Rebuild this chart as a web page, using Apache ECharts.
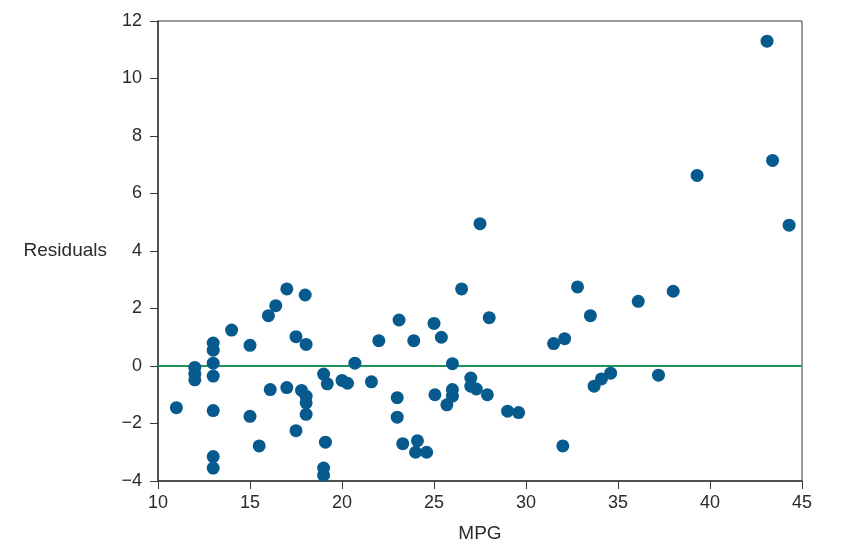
<!DOCTYPE html>
<html>
<head>
<meta charset="utf-8">
<script src="https://cdn.jsdelivr.net/npm/echarts@6/dist/echarts.min.js"></script>
<style>
  html, body { margin: 0; padding: 0; background: #fff; }
  #main { width: 854px; height: 556px; }
</style>
</head>
<body>
<div id="main"></div>
<script>
// values
var mpg = [
  11, 12, 12, 12, 13, 13, 13, 13, 13, 13, 13,
  14, 15, 15, 15.5, 16, 16.1, 16.4, 17, 17, 17.5, 17.5, 17.8,
  18, 18.05, 18.05, 18.05, 18.05, 19, 19.2, 19.1, 19, 19,
  20, 20.3, 20.7, 21.6, 22, 23.1, 23, 23, 23.3, 23.9, 24.1, 24, 24.6,
  25, 25.05, 25.4, 25.7, 26, 26, 26, 26.5, 27, 27, 27.3, 27.5, 27.9, 28,
  29, 29.6, 31.5, 32.1, 32, 32.8, 33.5, 33.7, 34.1, 34.6, 36.1, 37.2, 38,
  39.3, 43.1, 43.4, 44.3
]
var residuals = [
  -1.45, -0.05, -0.28, -0.48, 0.8, 0.55, 0.1, -0.35, -1.55, -3.15, -3.55,
  1.25, 0.72, -1.75, -2.78, 1.75, -0.82, 2.1, 2.68, -0.75, 1.02, -2.25, -0.85,
  2.47, 0.75, -1.05, -1.28, -1.68, -0.28, -0.62, -2.65, -3.55, -3.8,
  -0.5, -0.6, 0.1, -0.55, 0.88, 1.6, -1.1, -1.78, -2.7, 0.88, -2.6, -3.0, -3.0,
  1.48, -1.0, 1.0, -1.35, 0.08, -0.82, -1.05, 2.68, -0.42, -0.7, -0.8, 4.95, -1.0, 1.68,
  -1.57, -1.62, 0.78, 0.95, -2.78, 2.75, 1.75, -0.7, -0.45, -0.25, 2.25, -0.32, 2.6,
  6.63, 11.3, 7.15, 4.9
]
var xTicks = [10, 15, 20, 25, 30, 35, 40, 45]
var yTicks = [-4, -2, 0, 2, 4, 6, 8, 10, 12]

var points = mpg.map(function (m, i) { return [m, residuals[i]] })

var axisColor = '#3a3a3a'
var font = 'Liberation Sans, Arial, sans-serif'
var labelStyle = { color: '#2b2b2b', fontSize: 18, fontFamily: font }
var nameStyle = { color: '#2b2b2b', fontSize: 19, fontFamily: font }

var myChart = echarts.init(document.getElementById('main'))
var option = {
  animation: false,
  backgroundColor: '#fff',
  grid: {
    left: 158, right: 52, top: 21, bottom: 75,
    show: true, borderColor: axisColor, borderWidth: 1
  },
  xAxis: {
    type: 'value',
    min: xTicks[0], max: xTicks[xTicks.length - 1], interval: 5,
    name: 'MPG', nameLocation: 'middle', nameGap: 43,
    nameTextStyle: nameStyle,
    axisLine: { onZero: false, lineStyle: { color: axisColor, width: 1.5 } },
    axisTick: { show: true, length: 8, lineStyle: { color: axisColor } },
    axisLabel: Object.assign({ margin: 13 }, labelStyle),
    splitLine: { show: false }
  },
  yAxis: {
    type: 'value',
    min: yTicks[0], max: yTicks[yTicks.length - 1], interval: 2,
    name: 'Residuals', nameLocation: 'middle', nameRotate: 0, nameGap: 51,
    nameTextStyle: nameStyle,
    axisLine: { show: true, onZero: false, lineStyle: { color: axisColor, width: 1.5 } },
    axisTick: { show: true, length: 8, lineStyle: { color: axisColor } },
    axisLabel: Object.assign({
      margin: 16,
      formatter: function (v) { return String(v).replace('-', '\u2212') }
    }, labelStyle),
    splitLine: { show: false }
  },
  series: [{
    type: 'scatter',
    data: points,
    symbolSize: 13,
    itemStyle: { color: '#075a8e', opacity: 1 },
    z: 3,
    markLine: {
      silent: true,
      symbol: 'none',
      label: { show: false },
      lineStyle: { color: '#1e9456', width: 2, type: 'solid' },
      data: [{ yAxis: 0 }],
      z: 2
    }
  }]
}
myChart.setOption(option)
</script>
</body>
</html>
